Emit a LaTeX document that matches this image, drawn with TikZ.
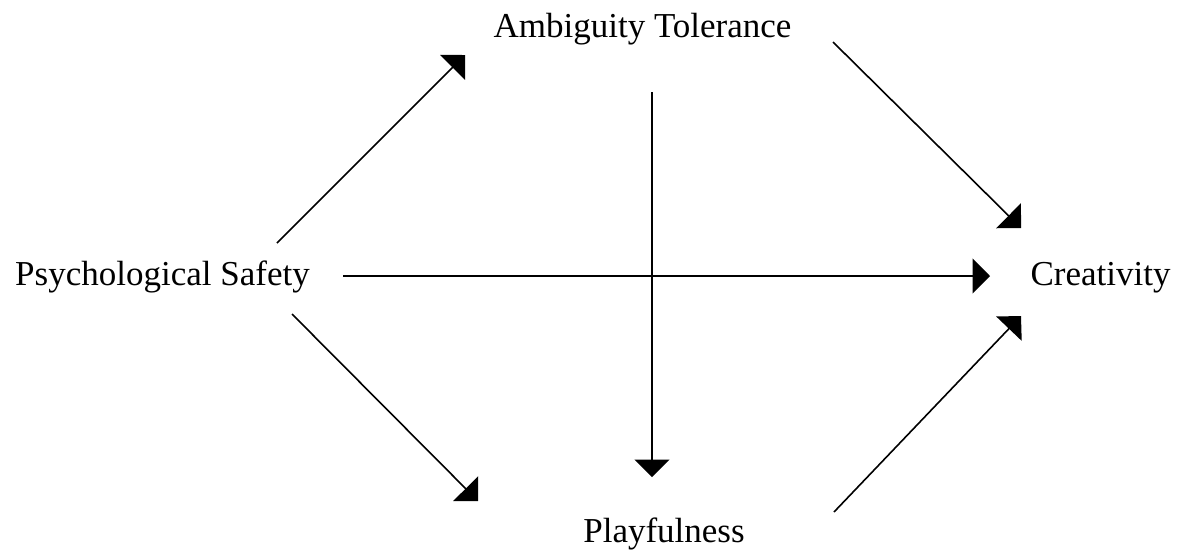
\documentclass[tikz,border=0pt]{standalone}
\usepackage{fontspec}
\setmainfont{Liberation Serif}
\usepackage{tikz}
\usetikzlibrary{arrows.meta}

\tikzset{
    concept/.style={inner sep=0pt, anchor=base, font=\fontsize{17.5}{21}\selectfont},
    link/.style={line width=0.8pt, -{Triangle[length=8.75pt,width=17.5pt]}}
}

\begin{document}
\begin{tikzpicture}[x=0.5pt, y=-0.5pt]
                \useasboundingbox (0,0) rectangle (1178,554);
                \node[concept] (ps) at (162.5,285) {Psychological Safety};
                \node[concept] (at) at (642.5,37) {Ambiguity Tolerance};
                \node[concept] (cr) at (1100.5,285) {Creativity};
                \node[concept] (pl) at (664,542) {Playfulness};

                \draw[link] ([shift={(114.5,-42)}]ps.base) -- ([shift={(-177.5,18)}]at.base);
                \draw[link] ([shift={(190.5,5)}]at.base) -- ([shift={(-79.5,-57)}]cr.base);
                \draw[link] ([shift={(180.5,-9)}]ps.base) -- ([shift={(-110.5,-9)}]cr.base);
                \draw[link] ([shift={(129.5,29)}]ps.base) -- ([shift={(-186,-41)}]pl.base);
                \draw[link] ([shift={(170,-30)}]pl.base) -- ([shift={(-79.5,31)}]cr.base);
                \draw[link] ([shift={(9.5,55)}]at.base) -- ([shift={(-12,-65)}]pl.base);
            \end{tikzpicture}
\end{document}
